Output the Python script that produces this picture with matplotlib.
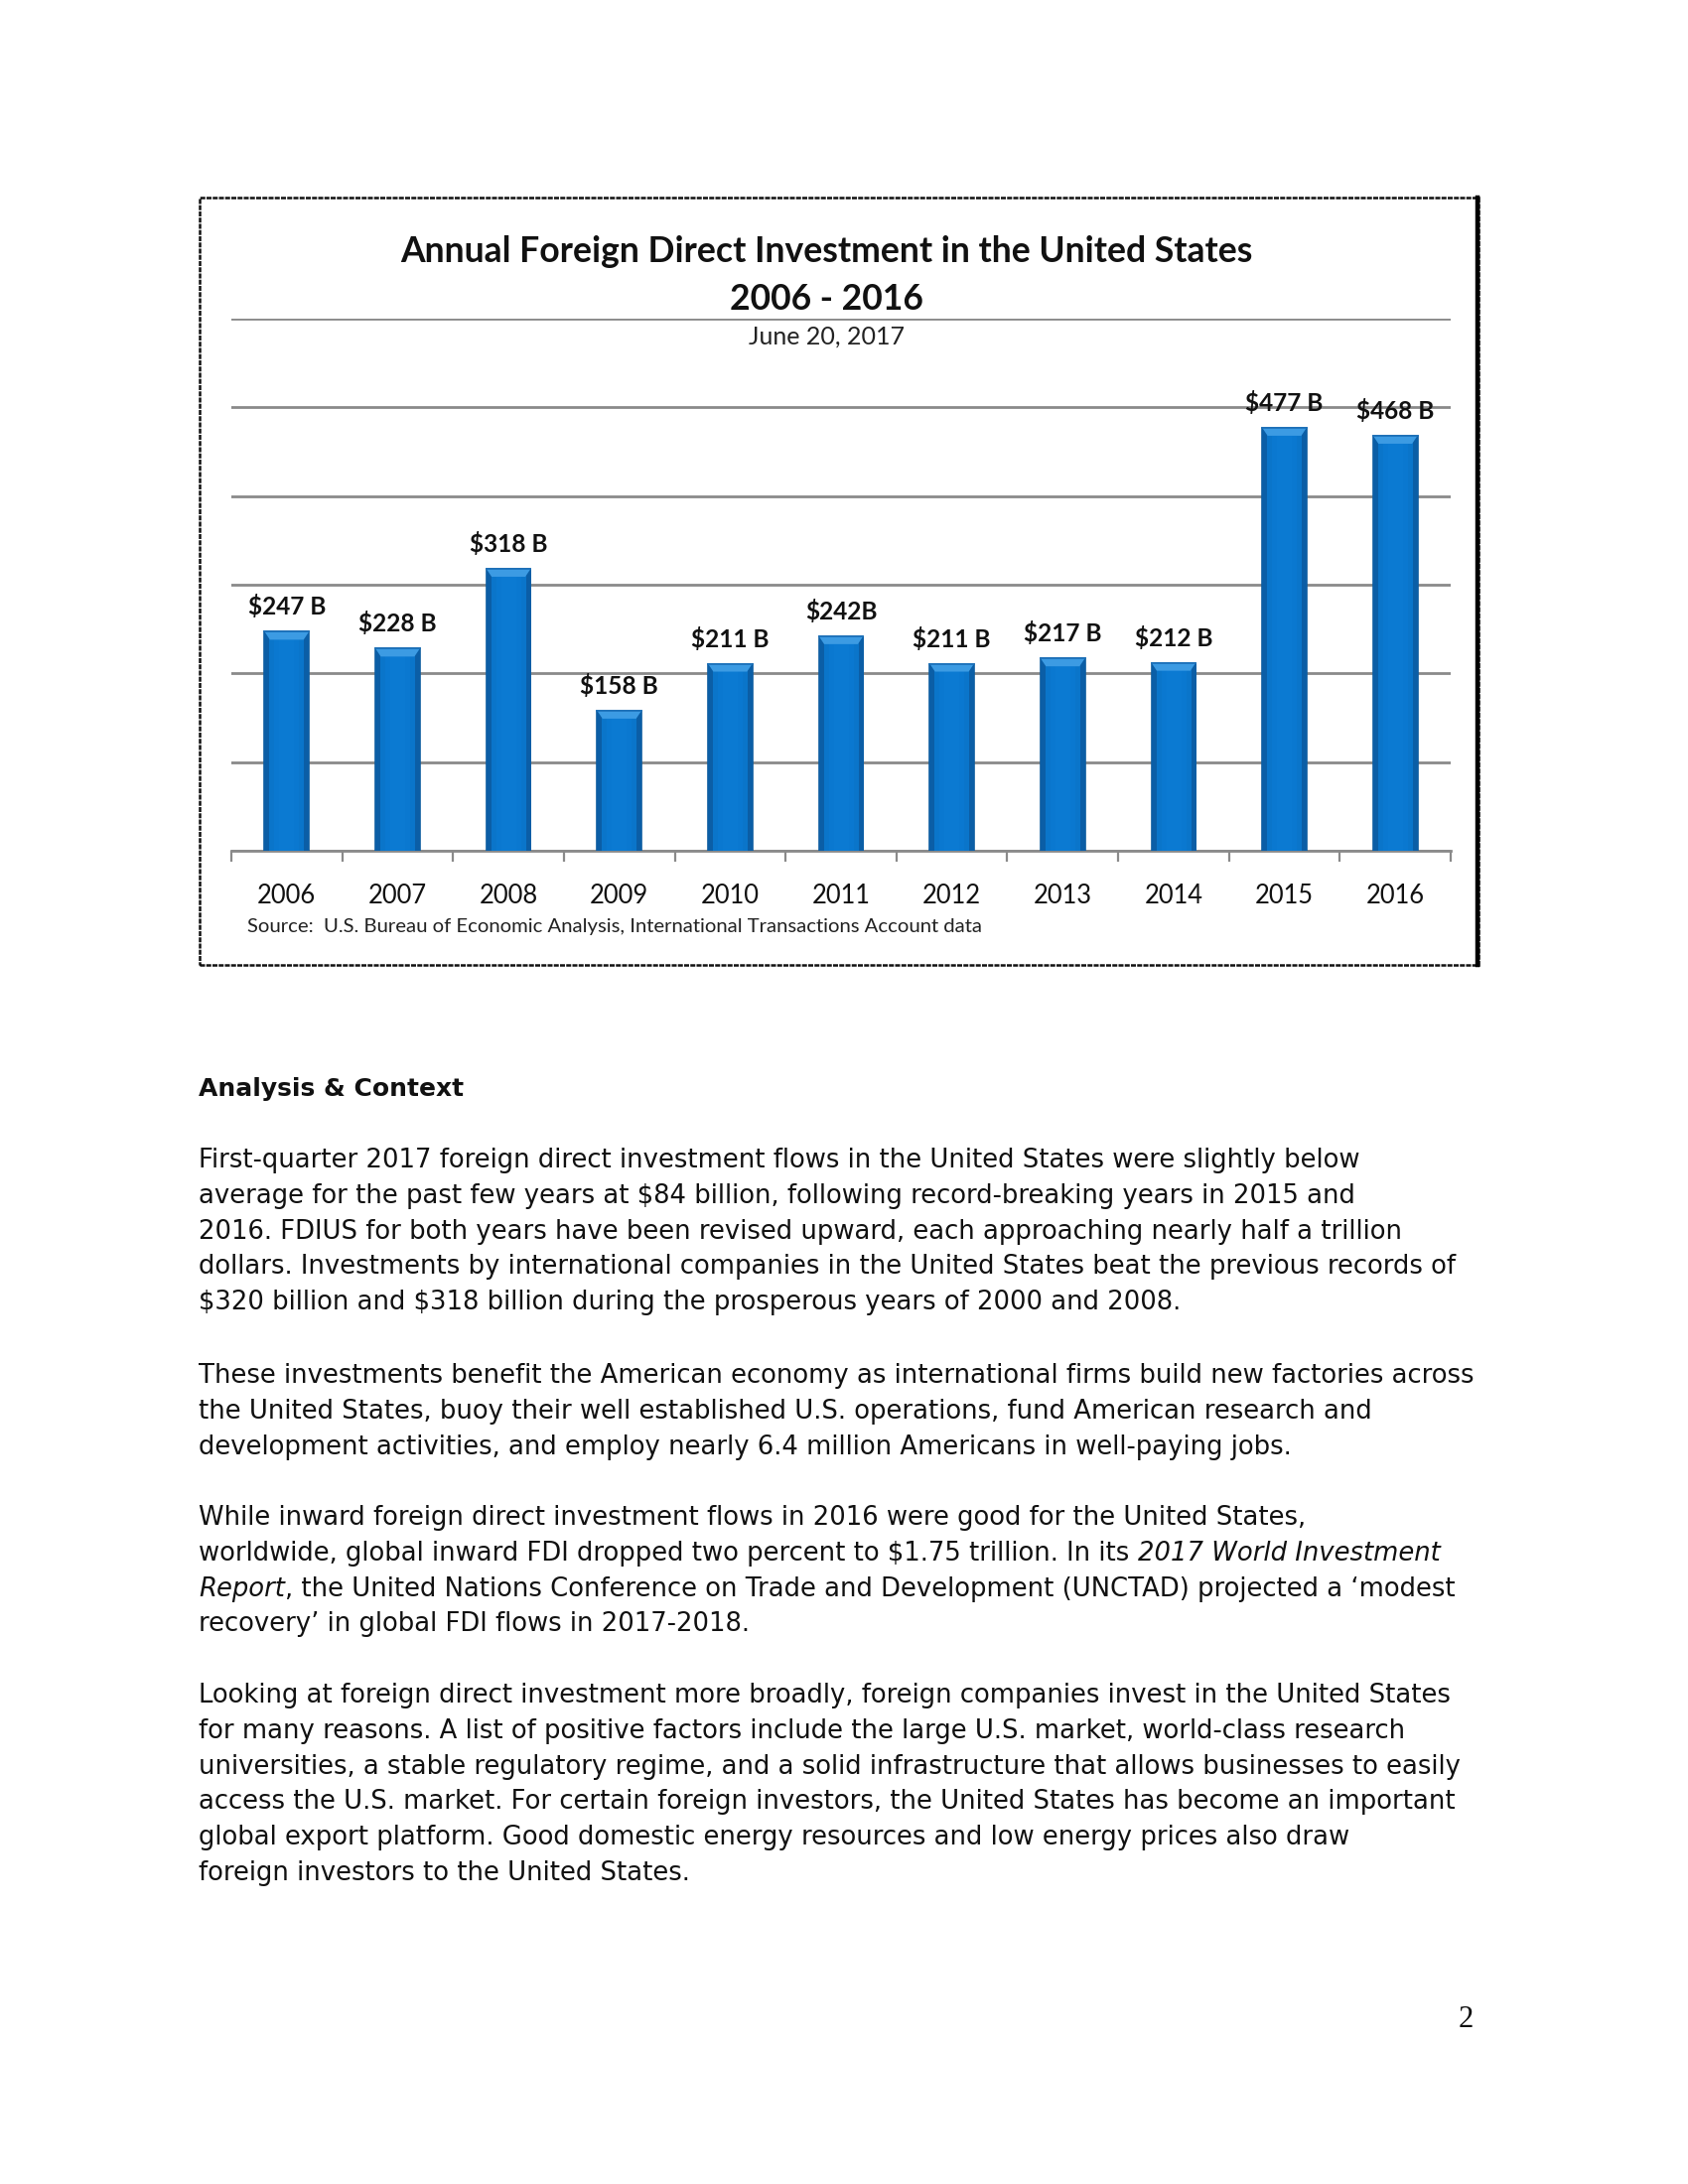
import matplotlib
matplotlib.use("Agg")
import matplotlib.pyplot as plt
from matplotlib.patches import Rectangle
from matplotlib.colors import LinearSegmentedColormap
from matplotlib.lines import Line2D
import numpy as np

plt.rcParams['text.parse_math'] = False

# chart data
years = ['2006', '2007', '2008', '2009', '2010', '2011', '2012', '2013', '2014', '2015', '2016']
fdi = [247, 228, 318, 158, 211, 242, 211, 217, 212, 477, 468]
bar_labels = ['$247 B', '$228 B', '$318 B', '$158 B', '$211 B', '$242B', '$211 B',
              '$217 B', '$212 B', '$477 B', '$468 B']
gridvals = [0, 100, 200, 300, 400, 500, 600]

title1 = 'Annual Foreign Direct Investment in the United States'
title2 = '2006 - 2016'
date_txt = 'June 20, 2017'
source_txt = 'Source:  U.S. Bureau of Economic Analysis, International Transactions Account data'

heading = 'Analysis & Context'
# each line is a list of (text, italic?) pieces
para1 = [
    [('First-quarter 2017 foreign direct investment flows in the United States were slightly below', False)],
    [('average for the past few years at $84 billion, following record-breaking years in 2015 and', False)],
    [('2016. FDIUS for both years have been revised upward, each approaching nearly half a trillion', False)],
    [('dollars. Investments by international companies in the United States beat the previous records of', False)],
    [('$320 billion and $318 billion during the prosperous years of 2000 and 2008.', False)],
]
para2 = [
    [('These investments benefit the American economy as international firms build new factories across', False)],
    [('the United States, buoy their well established U.S. operations, fund American research and', False)],
    [('development activities, and employ nearly 6.4 million Americans in well-paying jobs.', False)],
]
para3 = [
    [('While inward foreign direct investment flows in 2016 were good for the United States,', False)],
    [('worldwide, global inward FDI dropped two percent to $1.75 trillion. In its ', False),
     ('2017 World Investment', True)],
    [('Report', True),
     (', the United Nations Conference on Trade and Development (UNCTAD) projected a \u2018modest', False)],
    [('recovery\u2019 in global FDI flows in 2017-2018.', False)],
]
para4 = [
    [('Looking at foreign direct investment more broadly, foreign companies invest in the United States', False)],
    [('for many reasons. A list of positive factors include the large U.S. market, world-class research', False)],
    [('universities, a stable regulatory regime, and a solid infrastructure that allows businesses to easily', False)],
    [('access the U.S. market. For certain foreign investors, the United States has become an important', False)],
    [('global export platform. Good domestic energy resources and low energy prices also draw', False)],
    [('foreign investors to the United States.', False)],
]
paragraphs = [para1, para2, para3, para4]

W, H = 1700, 2200
fig = plt.figure(figsize=(8.5, 11), dpi=200)
chart_font = 'Lato'
body_font = 'DejaVu Sans'
ink = '#111111'

# chart frame
fig.patches.append(Rectangle((201 / W, 1 - 972 / H), (1489 - 201) / W, (972 - 199) / H,
                             transform=fig.transFigure, fill=False, edgecolor='#111111',
                             linewidth=0.9, linestyle=(0, (2, 0.5))))
fig.lines.append(Line2D([1488 / W, 1488 / W], [1 - 972 / H, 1 - 199 / H], transform=fig.transFigure,
                        color='#000000', linewidth=1.6))

ax = fig.add_axes([233 / W, 1 - 857 / H, (1461 - 233) / W, (857 - 321) / H])
x = np.arange(len(years))
bars = ax.bar(x, fdi, width=0.4, color='#0A72C6', edgecolor='#0E5C9E', linewidth=0.6, zorder=3)

# light shading across each bar and a bevelled top
cmap = LinearSegmentedColormap.from_list('barblue', ['#0B5EA6', '#0A74C9', '#0B7AD2'])
grad = np.array([[0.0, 0.6, 0.9, 1.0, 1.0, 1.0, 0.9, 0.6, 0.0]])
bev = 9
for b in bars:
    bx, by, bw, bh = b.get_x(), b.get_y(), b.get_width(), b.get_height()
    im = ax.imshow(grad, extent=(bx, bx + bw, by, by + bh), aspect='auto', cmap=cmap, zorder=3.5)
    im.set_clip_path(b)
    top = by + bh
    ax.fill([bx, bx + bw, bx + bw * 0.88, bx + bw * 0.12],
            [top, top, top - bev, top - bev], color='#3C9BE3', zorder=4, linewidth=0)
    ax.plot([bx, bx + bw], [top, top], color='#1B6FB8', linewidth=0.6, zorder=4.5)

for xi, v, lab in zip(x, fdi, bar_labels):
    ax.annotate(lab, (xi, v), xytext=(0, 9), textcoords='offset points', ha='center', va='center',
                fontsize=8.8, fontweight='bold', family=chart_font, color=ink, zorder=5)

ax.set_xlim(-0.5, len(years) - 0.5)
ax.set_ylim(0, 600)
ax.set_yticks(gridvals)
ax.set_yticklabels([])
ax.tick_params(axis='y', length=0)
ax.yaxis.grid(True, color='#8a8a8a', linewidth=1.0, zorder=0)
ax.set_axisbelow(True)
ax.set_xticks(x)
ax.set_xticklabels(years, fontsize=9.2, family=chart_font, color=ink)
ax.tick_params(axis='x', length=0, pad=12)
ax.set_xticks(np.arange(-0.5, len(years), 1.0), minor=True)
ax.tick_params(axis='x', which='minor', length=4, color='#8a8a8a', width=0.8)
for s in ['top', 'left', 'right']:
    ax.spines[s].set_visible(False)
ax.spines['bottom'].set_color('#8a8a8a')
ax.spines['bottom'].set_linewidth(1.0)
ax.patch.set_alpha(0)

fig.text(832 / W, 1 - 253 / H, title1, ha='center', va='center', fontsize=12.8, fontweight='bold',
         family=chart_font, color=ink)
fig.text(832 / W, 1 - 301 / H, title2, ha='center', va='center', fontsize=12.8, fontweight='bold',
         family=chart_font, color=ink)
fig.text(832 / W, 1 - 339 / H, date_txt, ha='center', va='center', fontsize=9, family=chart_font,
         color='#222222')
fig.text(249 / W, 1 - 933 / H, source_txt, ha='left', va='center', fontsize=7.3, family=chart_font,
         color='#222222')

# body text
body_size = 9.3
fig.text(200 / W, 1 - 1097 / H, heading, ha='left', va='center', fontsize=9.0,
         fontweight='bold', family=body_font, color=ink)

line_gap = 35.8
para_starts = [1169, 1386, 1529, 1708]
for para, y0 in zip(paragraphs, para_starts):
    for i, line in enumerate(para):
        yy = 1 - (y0 + i * line_gap) / H
        last = None
        for txt, ital in line:
            style = 'italic' if ital else 'normal'
            if last is None:
                last = fig.text(200 / W, yy, txt, ha='left', va='center', fontsize=body_size,
                                family=body_font, style=style, color=ink)
            else:
                # continue the line right after the previous piece
                last = ax.annotate(txt, xy=(1, 0), xycoords=last, va='bottom', ha='left',
                                   fontsize=body_size, family=body_font, style=style,
                                   color=ink, annotation_clip=False)

fig.text(1476 / W, 1 - 2035 / H, '2', ha='center', va='center', fontsize=11,
         family='Liberation Serif', color=ink)

fig.savefig('out.png', dpi=200)
